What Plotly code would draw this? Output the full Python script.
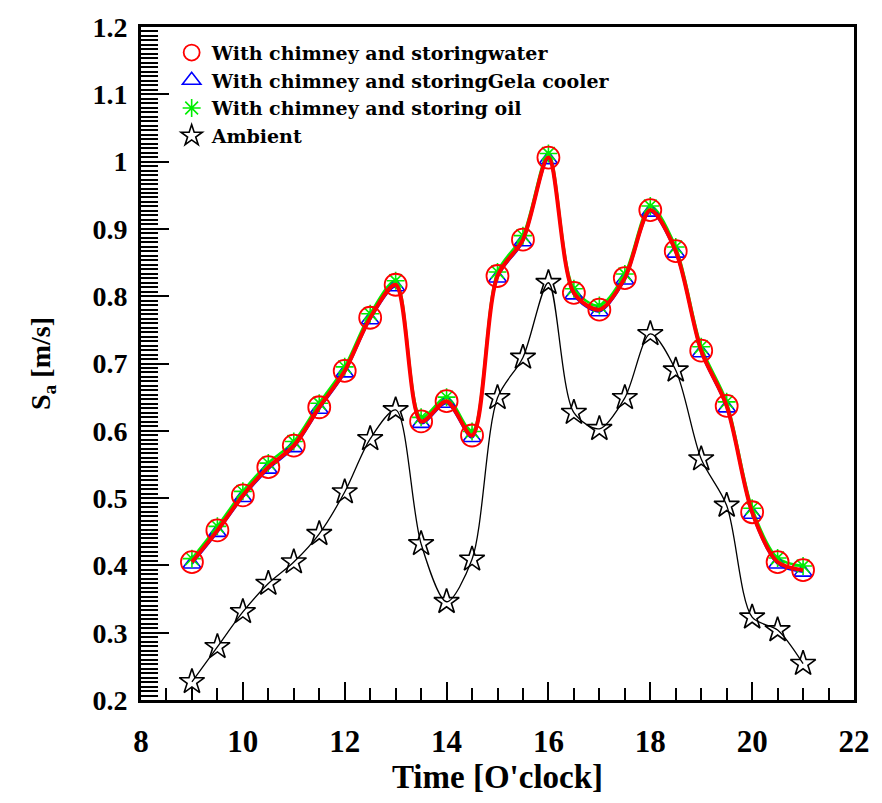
import plotly.graph_objects as go

time = [9, 9.5, 10, 10.5, 11, 11.5, 12, 12.5, 13, 13.5, 14, 14.5, 15,
        15.5, 16, 16.5, 17, 17.5, 18, 18.5, 19, 19.5, 20, 20.5, 21]

water = [0.405, 0.452, 0.504, 0.546, 0.578, 0.635, 0.689, 0.768, 0.817, 0.614,
         0.644, 0.593, 0.830, 0.884, 1.006, 0.805, 0.780, 0.827, 0.928, 0.867,
         0.719, 0.637, 0.479, 0.405, 0.393]

gela = [0.402, 0.449, 0.501, 0.543, 0.575, 0.632, 0.686, 0.765, 0.814, 0.611,
        0.641, 0.590, 0.827, 0.881, 1.003, 0.802, 0.777, 0.824, 0.925, 0.864,
        0.716, 0.634, 0.476, 0.402, 0.390]

oil = [0.410, 0.458, 0.510, 0.552, 0.584, 0.641, 0.695, 0.774, 0.823, 0.620,
       0.650, 0.599, 0.836, 0.890, 1.012, 0.811, 0.786, 0.833, 0.934, 0.873,
       0.725, 0.643, 0.485, 0.411, 0.399]

ambient = [0.227, 0.279, 0.331, 0.373, 0.405, 0.447, 0.509, 0.588, 0.631, 0.432,
           0.346, 0.409, 0.649, 0.709, 0.820, 0.627, 0.603, 0.649, 0.744, 0.690,
           0.558, 0.489, 0.323, 0.304, 0.254]

names = ["With chimney and storingwater",
         "With chimney and storingGela cooler",
         "With chimney and storing oil",
         "Ambient"]

x_ticks = [8, 10, 12, 14, 16, 18, 20, 22]

FONT = "Liberation Serif"
LFONT = "DejaVu Serif"
SM = 0.85

fig = go.Figure()

fig.add_trace(go.Scatter(x=time, y=ambient, mode="lines", showlegend=False,
                         line=dict(color="black", width=1.3, shape="spline", smoothing=SM)))
fig.add_trace(go.Scatter(x=time, y=ambient, mode="markers", name=names[3], legendrank=4,
                         marker=dict(symbol="star-open", size=19, color="black",
                                     line=dict(color="black", width=1.6))))
fig.add_trace(go.Scatter(x=time, y=gela, mode="lines", showlegend=False,
                         line=dict(color="blue", width=2, shape="spline", smoothing=SM)))
fig.add_trace(go.Scatter(x=time, y=oil, mode="lines", showlegend=False,
                         line=dict(color="#00ee00", width=2.5, shape="spline", smoothing=SM)))
fig.add_trace(go.Scatter(x=time, y=gela, mode="markers", name=names[1], legendrank=2,
                         marker=dict(symbol="triangle-up-open", size=16, color="blue",
                                     line=dict(color="blue", width=1.6))))
fig.add_trace(go.Scatter(x=time, y=oil, mode="markers", name=names[2], legendrank=3,
                         marker=dict(symbol="asterisk-open", size=15, color="#00ee00",
                                     line=dict(color="#00ee00", width=1.6))))
fig.add_trace(go.Scatter(x=time, y=water, mode="markers", name=names[0], legendrank=1,
                         marker=dict(symbol="circle-open", size=22, color="red",
                                     line=dict(color="red", width=1.8))))
fig.add_trace(go.Scatter(x=time, y=water, mode="lines", showlegend=False,
                         line=dict(color="red", width=4, shape="spline", smoothing=SM)))

fig.update_layout(
    width=882, height=803,
    margin=dict(l=141, r=24, t=25, b=103),
    paper_bgcolor="white", plot_bgcolor="white",
    font=dict(family=FONT, color="black", weight="bold"),
    legend=dict(x=0.043, y=0.99, xanchor="left", yanchor="top",
                bgcolor="rgba(0,0,0,0)", font=dict(family=LFONT, size=19, weight="bold"),
                tracegroupgap=0),
    xaxis=dict(range=[8, 22], tickvals=x_ticks, ticktext=[str(v) for v in x_ticks],
               ticks="inside", ticklen=18, tickwidth=2, tickcolor="black",
               showline=True, linewidth=3, linecolor="black", mirror=True,
               showgrid=False, zeroline=False, ticklabelstandoff=12,
               tickfont=dict(family=FONT, size=31, weight="bold"),
               minor=dict(dtick=0.5, tick0=8, ticks="inside", ticklen=12,
                          tickwidth=2, tickcolor="black", showgrid=False),
               title=dict(text="Time [O'clock]", standoff=6,
                          font=dict(family=FONT, size=33, weight="bold"))),
    yaxis=dict(range=[0.2, 1.2], dtick=0.1, tick0=0.2,
               ticks="inside", ticklen=28, tickwidth=2, tickcolor="black",
               showline=True, linewidth=3, linecolor="black", mirror=True,
               showgrid=False, zeroline=False, ticklabelstandoff=5,
               tickfont=dict(family=FONT, size=28, weight="bold"),
               minor=dict(dtick=0.1 / 15, tick0=0.2, ticks="inside", ticklen=17,
                          tickwidth=2, tickcolor="black", showgrid=False),
               title=dict(text="S<sub>a</sub> [m/s]", standoff=34,
                          font=dict(family=FONT, size=28, weight="bold"))),
)

fig.write_html("out.html")
